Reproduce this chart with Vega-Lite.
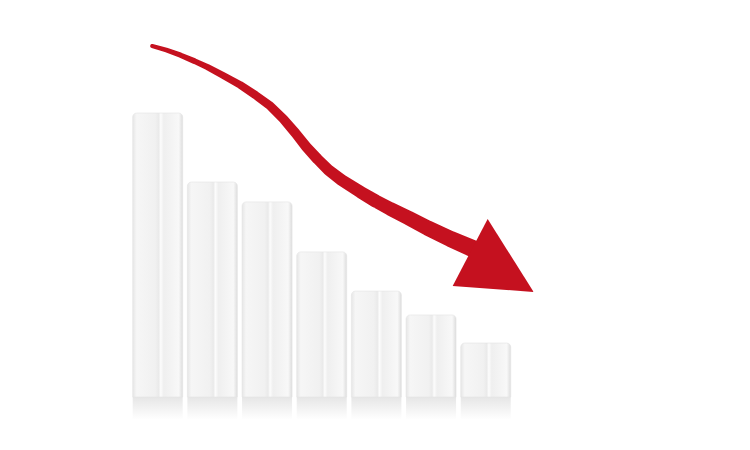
{
  "$schema": "https://vega.github.io/schema/vega-lite/v6.json",
  "width": 750,
  "height": 450,
  "autosize": {"type": "fit", "contains": "padding"},
  "padding": 0,
  "background": "white",
  "config": {"view": {"stroke": null}},
  "datasets": {
    "bars": [
      {"bar": 1, "value": 100.0},
      {"bar": 2, "value": 75.7},
      {"bar": 3, "value": 68.7},
      {"bar": 4, "value": 51.1},
      {"bar": 5, "value": 37.3},
      {"bar": 6, "value": 28.9},
      {"bar": 7, "value": 19.0}
    ],
    "arrow": [
      {"x": 0.899, "y": 123.59},
      {"x": 1.156, "y": 122.18},
      {"x": 1.412, "y": 120.42},
      {"x": 1.668, "y": 118.31},
      {"x": 1.907, "y": 116.20},
      {"x": 2.181, "y": 113.38},
      {"x": 2.511, "y": 109.86},
      {"x": 2.786, "y": 106.34},
      {"x": 3.060, "y": 102.46},
      {"x": 3.299, "y": 97.89},
      {"x": 3.518, "y": 92.96},
      {"x": 3.720, "y": 88.03},
      {"x": 3.921, "y": 83.80},
      {"x": 4.123, "y": 79.93},
      {"x": 4.361, "y": 76.41},
      {"x": 4.709, "y": 72.18},
      {"x": 4.984, "y": 69.01},
      {"x": 5.258, "y": 66.20},
      {"x": 5.588, "y": 63.03},
      {"x": 5.936, "y": 59.51},
      {"x": 6.357, "y": 55.63},
      {"x": 6.778, "y": 52.11},
      {"x": 7.126, "y": 48.94}
    ],
    "head": [
      {"x": 7.09, "y": 46.5}
    ]
  },
  "layer": [
    {
      "data": {"name": "bars"},
      "mark": {
        "type": "bar",
        "width": 50,
        "fill": {
          "gradient": "linear",
          "x1": 0, "y1": 0, "x2": 0, "y2": 1,
          "stops": [
            {"offset": 0, "color": "#e6e6e6"},
            {"offset": 1, "color": "#ffffff"}
          ]
        }
      },
      "encoding": {
        "x": {"field": "bar", "type": "quantitative", "scale": {"domain": [-1.793, 11.742], "nice": false, "zero": false}, "axis": null},
        "y": {"datum": 0, "type": "quantitative", "scale": {"domain": [-18.66, 139.79], "nice": false, "zero": false}, "axis": null},
        "y2": {"datum": -8}
      }
    },
    {
      "data": {"name": "bars"},
      "mark": {
        "type": "bar",
        "width": 50,
        "cornerRadiusTopLeft": 4,
        "cornerRadiusTopRight": 4,
        "stroke": "#e4e4e4",
        "strokeWidth": 0.6,
        "fill": {
          "gradient": "linear",
          "x1": 0, "y1": 0, "x2": 1, "y2": 0,
          "stops": [
            {"offset": 0, "color": "#e6e6e6"},
            {"offset": 0.08, "color": "#f6f6f6"},
            {"offset": 0.45, "color": "#f1f1f1"},
            {"offset": 0.52, "color": "#eaeaea"},
            {"offset": 0.56, "color": "#fcfcfc"},
            {"offset": 0.62, "color": "#efefef"},
            {"offset": 0.92, "color": "#f8f8f8"},
            {"offset": 1, "color": "#dddddd"}
          ]
        }
      },
      "encoding": {
        "x": {"field": "bar", "type": "quantitative"},
        "y": {"field": "value", "type": "quantitative"},
        "y2": {"datum": 0}
      }
    },
    {
      "data": {"name": "arrow"},
      "mark": {"type": "trail", "color": "#c5111f"},
      "encoding": {
        "x": {"field": "x", "type": "quantitative"},
        "y": {"field": "y", "type": "quantitative"},
        "size": {"field": "x", "type": "quantitative", "scale": {"domain": [0.9, 7.13], "range": [4, 18]}, "legend": null}
      }
    },
    {
      "data": {"name": "head"},
      "mark": {
        "type": "point",
        "filled": true,
        "opacity": 1,
        "color": "#c5111f",
        "strokeWidth": 0,
        "size": 4,
        "shape": "M-3,-46 L43,27 L-38,21 Z"
      },
      "encoding": {
        "x": {"field": "x", "type": "quantitative"},
        "y": {"field": "y", "type": "quantitative"}
      }
    }
  ]
}
